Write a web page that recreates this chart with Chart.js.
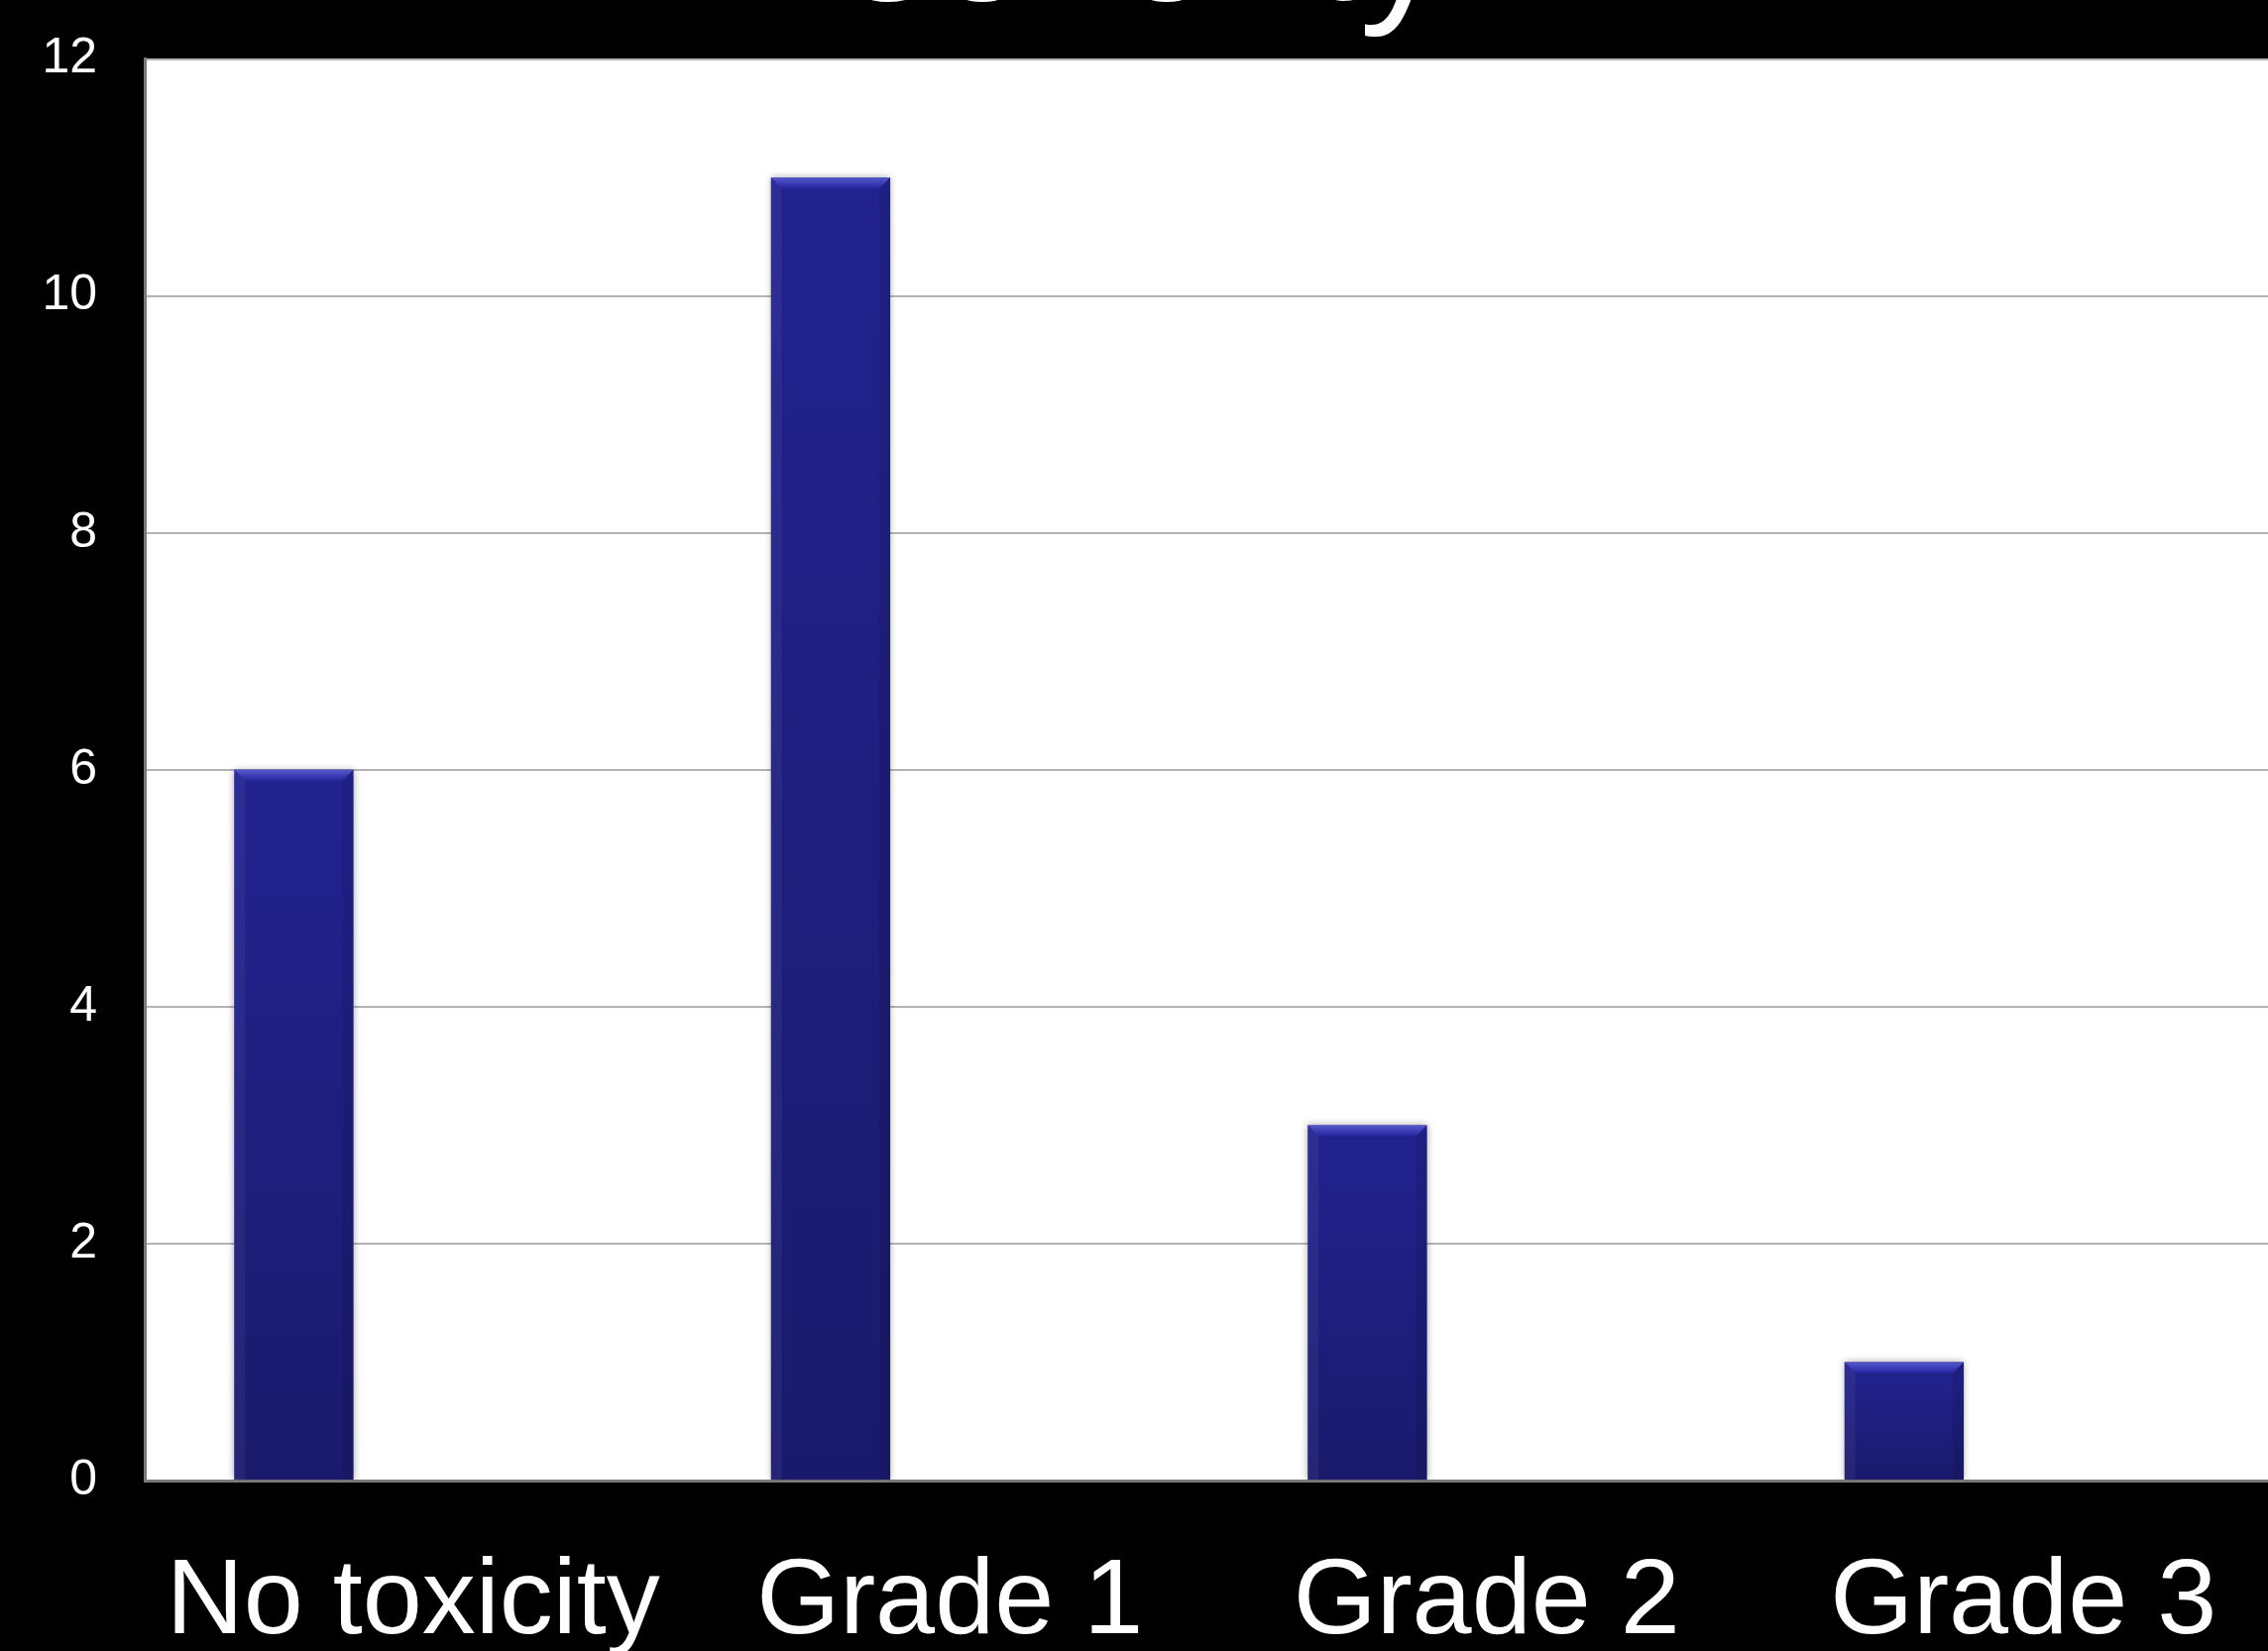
<!DOCTYPE html>
<html>
<head>
<meta charset="utf-8">
<script src="https://cdn.jsdelivr.net/npm/chart.js@4.4.1/dist/chart.umd.min.js"></script>
<style>
  html, body { margin: 0; padding: 0; background: #000; overflow: hidden; width: 2288px; height: 1666px; }
  #wrap { position: absolute; left: 0; top: -153px; }
</style>
</head>
<body>
<div id="wrap"><canvas id="toxicity-chart" width="2312" height="1819"></canvas></div>
<script>
const categories = ['No toxicity', 'Grade 1', 'Grade 2', 'Grade 3'];
const patients = [6, 11, 3, 1];
// the original had two more (empty) series, which is what pushes the bars left
const series2 = [null, null, null, null];
const series3 = [null, null, null, null];
const yTicks = [0, 2, 4, 6, 8, 10, 12];

Chart.defaults.color = '#fff';
Chart.defaults.font.family = "'Liberation Sans', Arial, sans-serif";

const plotBackground = {
  id: 'plotBackground',
  beforeDraw(chart) {
    const {ctx, chartArea} = chart;
    ctx.save();
    ctx.fillStyle = '#ffffff';
    ctx.fillRect(chartArea.left, chartArea.top, chartArea.right - chartArea.left, chartArea.bottom - chartArea.top);
    ctx.restore();
  },
  beforeDatasetsDraw(chart) {
    const ctx = chart.ctx;
    ctx.save();
    ctx.shadowColor = 'rgba(0, 0, 0, 0.35)';
    ctx.shadowBlur = 7;
  },
  afterDatasetsDraw(chart) {
    const ctx = chart.ctx;
    ctx.restore();
    // bevel on the bars
    const meta = chart.getDatasetMeta(0);
    meta.data.forEach(bar => {
      if (bar.y == null || isNaN(bar.y)) return;
      const l = bar.x - bar.width / 2, r = bar.x + bar.width / 2, t = bar.y, b = 11;
      ctx.save();
      const g = ctx.createLinearGradient(0, t, 0, t + b);
      g.addColorStop(0, '#5656cc');
      g.addColorStop(1, '#2626a0');
      ctx.fillStyle = g;
      ctx.beginPath();
      ctx.moveTo(l, t); ctx.lineTo(r, t); ctx.lineTo(r - b, t + b); ctx.lineTo(l + b, t + b);
      ctx.closePath(); ctx.fill();
      ctx.fillStyle = 'rgba(255,255,255,0.05)';
      ctx.beginPath();
      ctx.moveTo(l, t); ctx.lineTo(l + b, t + b); ctx.lineTo(l + b, bar.base); ctx.lineTo(l, bar.base);
      ctx.closePath(); ctx.fill();
      ctx.fillStyle = 'rgba(0,0,0,0.08)';
      ctx.beginPath();
      ctx.moveTo(r, t); ctx.lineTo(r - b, t + b); ctx.lineTo(r - b, bar.base); ctx.lineTo(r, bar.base);
      ctx.closePath(); ctx.fill();
      ctx.restore();
    });
  }
};

function barFill(c) {
  const {ctx, chartArea, scales} = c.chart;
  if (!chartArea || c.type !== 'data' || c.raw == null) return '#1f1f88';
  const top = scales.y.getPixelForValue(c.raw);
  const bottom = scales.y.getPixelForValue(0);
  const g = ctx.createLinearGradient(0, top, 0, bottom);
  g.addColorStop(0, '#222290');
  g.addColorStop(1, '#1a1a6c');
  return g;
}

const ctx = document.getElementById('toxicity-chart').getContext('2d');
const toxicityChart = new Chart(ctx, {
  type: 'bar',
  plugins: [plotBackground],
  data: {
    labels: categories,
    datasets: [
      { label: 'Patients', data: patients, backgroundColor: barFill, borderWidth: 0 },
      { label: 'Series 2', data: series2, backgroundColor: '#8b0000' },
      { label: 'Series 3', data: series3, backgroundColor: '#006400' }
    ]
  },
  options: {
    responsive: false,
    animation: false,
    categoryPercentage: 0.6667,
    barPercentage: 1,
    layout: { padding: 0 },
    scales: {
      x: {
        grid: { display: false, drawTicks: false },
        border: { display: true, color: '#7a7a7a', width: 3 },
        ticks: { color: '#fff', font: { size: 108 }, padding: 59, maxRotation: 0, autoSkip: false },
        afterFit(axis) { axis.height = 172; }
      },
      y: {
        min: 0,
        max: 12,
        grid: { color: '#b4b4b4', lineWidth: 2, drawTicks: false },
        border: { display: true, color: '#7a7a7a', width: 3 },
        ticks: { color: '#fff', font: { size: 50 }, padding: 48, stepSize: 2 },
        afterBuildTicks(axis) { axis.ticks = yTicks.map(v => ({ value: v })); },
        afterFit(axis) { axis.width = 146; }
      }
    },
    plugins: {
      legend: { display: false },
      tooltip: { enabled: false },
      title: {
        display: true,
        text: 'severity',
        color: '#fff',
        font: { size: 176, weight: 'normal', lineHeight: 1.1 },
        padding: { top: 7.5, bottom: 11.5 }
      }
    }
  }
});
</script>
</body>
</html>
